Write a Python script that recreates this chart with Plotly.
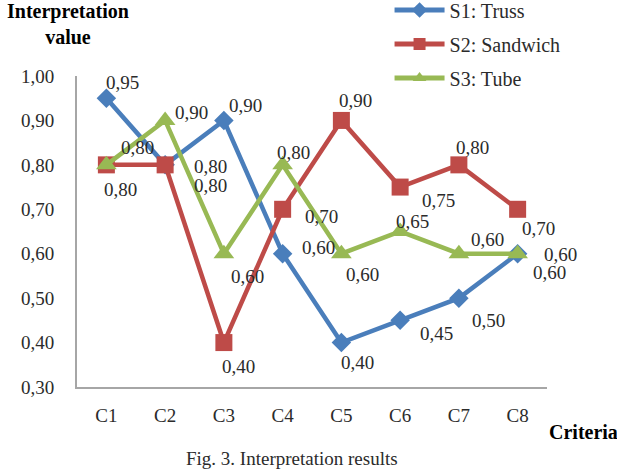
import plotly.graph_objects as go

criteria = ["C1", "C2", "C3", "C4", "C5", "C6", "C7", "C8"]
s1_name = "S1: Truss"
s2_name = "S2: Sandwich"
s3_name = "S3: Tube"
s1_values = [0.95, 0.80, 0.90, 0.60, 0.40, 0.45, 0.50, 0.60]
s2_values = [0.80, 0.80, 0.40, 0.70, 0.90, 0.75, 0.80, 0.70]
s3_values = [0.80, 0.90, 0.60, 0.80, 0.60, 0.65, 0.60, 0.60]

# label offsets in pixels (dx, dy with dy positive downward)
s1_off = [(16, -16), (45, 2), (22, -15), (36, -6), (16, 20), (36, 13), (30, 22), (43, 1)]
s2_off = [(14, 25), (45, 21), (15, 24), (39, 7), (14, -20), (38, 13), (14, -17), (21, 19)]
s3_off = [(31, -17), (26, -8), (24, 23), (11, -12), (21, 21), (12, -10), (29, -14), (32, 19)]

FONT = "Liberation Serif, Times New Roman, serif"
TXT = "#2b2b2b"

def fmt(v):
    return f"{v:.2f}".replace(".", ",")

fig = go.Figure()
series = [
    (s1_name, s1_values, "#4A7EBB", "diamond", 15, s1_off),
    (s2_name, s2_values, "#BE4B48", "square", 17, s2_off),
    (s3_name, s3_values, "#98B954", "triangle-up", 18, s3_off),
]
annotations = []
for i, (name, vals, col, sym, sz, offs) in enumerate(series):
    fig.add_trace(go.Scatter(
        x=criteria, y=vals, name=name, mode="lines+markers",
        line=dict(color=col, width=4.5),
        marker=dict(symbol=sym, size=sz, color=col),
        legendgroup=f"g{i}", cliponaxis=False,
    ))
    for c, v, (dx, dy) in zip(criteria, vals, offs):
        annotations.append(dict(
            x=c, y=v, xref="x", yref="y", text=fmt(v), showarrow=False,
            xanchor="center", yanchor="middle", xshift=dx, yshift=-dy,
            font=dict(family=FONT, size=19, color=TXT)))

annotations += [
    dict(text="<b>Interpretation<br>value</b>", xref="paper", yref="paper",
         x=-0.019, y=1.25, xanchor="center", yanchor="top", showarrow=False,
         font=dict(family=FONT, size=20, color="#000000"), align="center"),
    dict(text="<b>Criteria</b>", xref="paper", yref="paper",
         x=1.0, y=-0.145, xanchor="left", yanchor="middle", showarrow=False,
         font=dict(family=FONT, size=20, color="#000000")),
    dict(text="Fig. 3. Interpretation results", xref="paper", yref="paper",
         x=0.457, y=-0.23, xanchor="center", yanchor="middle", showarrow=False,
         font=dict(family=FONT, size=19, color=TXT)),
]

fig.update_layout(
    width=617, height=472,
    margin=dict(l=77, r=70, t=76, b=85, autoexpand=False),
    paper_bgcolor="white", plot_bgcolor="white",
    font=dict(family=FONT, size=19, color=TXT),
    showlegend=True,
    legend=dict(x=0.665, y=1.275, xanchor="left", yanchor="top",
                font=dict(family=FONT, size=20, color=TXT),
                tracegroupgap=5, itemwidth=50, itemsizing="constant",
                bgcolor="rgba(0,0,0,0)"),
    xaxis=dict(type="category", range=[-0.5, 7.5], showline=True, linecolor="#A6A6A6",
               linewidth=2, showgrid=False, ticks="", ticklabelstandoff=10,
               tickfont=dict(family=FONT, size=19, color=TXT), zeroline=False),
    yaxis=dict(range=[0.30, 1.00], dtick=0.1, tickformat=".2f",
               showline=True, linecolor="#A6A6A6", linewidth=2, showgrid=False, ticks="",
               ticklabelstandoff=17, tickfont=dict(family=FONT, size=19, color=TXT),
               zeroline=False),
    separators=",.",
    annotations=annotations,
)

fig.write_html("out.html")
